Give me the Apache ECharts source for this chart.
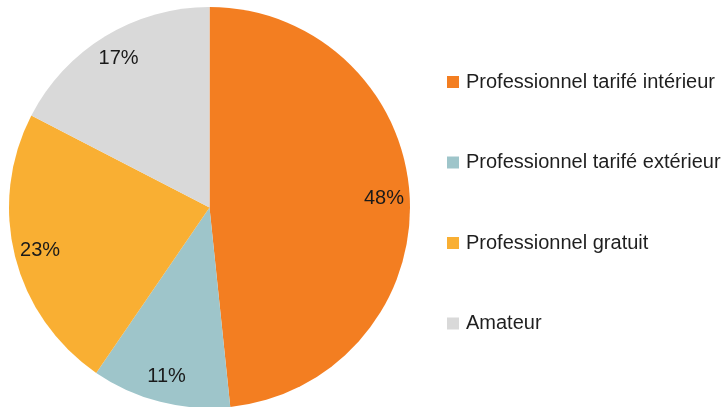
<!DOCTYPE html>
<html>
<head>
<meta charset="utf-8">
<script src="https://cdn.jsdelivr.net/npm/echarts@6/dist/echarts.min.js"></script>
<style>html,body{margin:0;padding:0;background:#fff;}#c{width:727px;height:407px;}</style>
</head>
<body>
<div id="c"></div>
<script>
var categories = ['Professionnel tarifé intérieur', 'Professionnel tarifé extérieur', 'Professionnel gratuit', 'Amateur'];
var values = [48.3, 11.2, 23.0, 17.4];
var colors = ['#F37E21', '#9EC5CA', '#F9AF33', '#D9D9D9'];

var data = categories.map(function (n, i) { return { name: n, value: values[i] }; });
var chart = echarts.init(document.getElementById('c'), null, { renderer: 'canvas' });
var font = 'Liberation Sans, Arial, sans-serif';
chart.setOption({
  animation: false,
  color: colors,
  legend: {
    orient: 'vertical',
    left: 442,
    top: 67,
    itemWidth: 12,
    itemHeight: 12,
    itemGap: 60.5,
    icon: 'rect',
    textStyle: { fontFamily: font, fontSize: 20, color: '#1f1f1f', padding: [0, 0, 0, 2] },
    data: categories
  },
  series: [
    {
      type: 'pie',
      center: [209.5, 207.5],
      radius: [0, 200.5],
      startAngle: 90,
      clockwise: true,
      label: { show: false },
      labelLine: { show: false },
      itemStyle: { borderWidth: 0 },
      emphasis: { disabled: true },
      data: data
    },
    {
      type: 'pie',
      center: [209.5, 207.5],
      radius: [143, 200.5],
      startAngle: 90,
      clockwise: true,
      silent: true,
      legendHoverLink: false,
      itemStyle: { color: 'rgba(0,0,0,0)', borderWidth: 0 },
      label: {
        show: true,
        position: 'inside',
        rotate: 0,
        fontFamily: font,
        fontSize: 20,
        color: '#1a1a1a',
        formatter: function (p) { return Math.round(p.percent) + '%'; }
      },
      labelLine: { show: false },
      emphasis: { disabled: true },
      data: data.map(function (d) { return { name: d.name + ' ', value: d.value }; })
    }
  ]
});
</script>
</body>
</html>
